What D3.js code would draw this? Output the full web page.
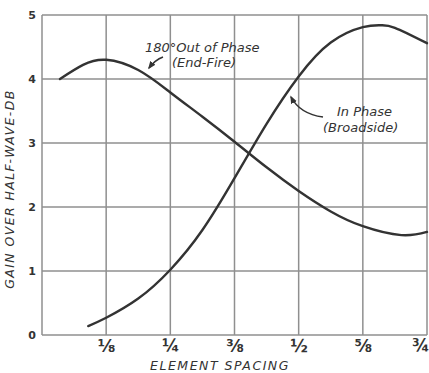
<!DOCTYPE html>
<html><head><meta charset="utf-8">
<script src="https://cdn.jsdelivr.net/npm/d3@7"></script>
<style>body{margin:0;background:#fff}svg{display:block}</style>
</head><body>
<svg id="c" width="429" height="373"></svg>
<script>
const spacing = [0.09,0.125,0.1875,0.25,0.3125,0.375,0.4375,0.5,0.5625,0.625,0.66,0.6875,0.75];
const broadside = [0.14,0.27,0.57,1.02,1.64,2.45,3.30,4.04,4.57,4.81,4.84,4.80,4.56];
const endFireSpacing = [0.035,0.08,0.125,0.1875,0.25,0.3125,0.375,0.4375,0.5,0.5625,0.625,0.70,0.75];
const endFire = [4.0,4.22,4.30,4.14,3.79,3.41,3.02,2.62,2.25,1.93,1.70,1.56,1.61];
const xTicks = [0.125,0.25,0.375,0.5,0.625,0.75];
const xTickLabels = ["⅛","¼","⅜","½","⅝","¾"];
const yTicks = [0,1,2,3,4,5];

const svg = d3.select("#c");
const m = {l:42, r:2, t:15, b:38};
const W = 429, H = 373;
const x = d3.scaleLinear().domain([0,0.75]).range([m.l, W-m.r]);
const y = d3.scaleLinear().domain([0,5]).range([H-m.b, m.t]);
const ink = "#333";
const grid = "#8f8f8f";

// grid
const g = svg.append("g");
g.selectAll(".vx").data(xTicks).join("line")
  .attr("x1",d=>x(d)).attr("x2",d=>x(d)).attr("y1",y(0)).attr("y2",y(5))
  .attr("stroke",grid).attr("stroke-width",1.5);
g.selectAll(".hy").data(yTicks).join("line")
  .attr("x1",x(0)).attr("x2",x(0.75)).attr("y1",d=>y(d)).attr("y2",d=>y(d))
  .attr("stroke",grid).attr("stroke-width",1.5);
g.append("line").attr("x1",x(0)).attr("x2",x(0)).attr("y1",y(0)).attr("y2",y(5))
  .attr("stroke",grid).attr("stroke-width",1.5);

// axes labels
const yAxis = d3.axisLeft(y).tickValues(yTicks).tickFormat(d3.format("d")).tickSize(0).tickPadding(6);
svg.append("g").attr("transform",`translate(${x(0)},0)`).call(yAxis)
  .call(s=>s.select(".domain").remove())
  .selectAll("text").attr("font-family","DejaVu Sans").attr("font-weight","bold")
  .attr("font-size",11).attr("fill",ink);
const xAxis = d3.axisBottom(x).tickValues(xTicks).tickFormat((d,i)=>xTickLabels[i]).tickSize(0).tickPadding(5);
svg.append("g").attr("transform",`translate(0,${y(0)})`).call(xAxis)
  .call(s=>s.select(".domain").remove())
  .selectAll("text").attr("font-family","DejaVu Sans").attr("font-weight","bold")
  .attr("font-size",17).attr("fill",ink)
  .filter(d=>d===0.75).attr("text-anchor","end").attr("dx",2);

svg.append("text").attr("x",220).attr("y",370).attr("text-anchor","middle")
  .attr("font-family","DejaVu Sans").attr("font-style","italic").attr("font-size",12.5)
  .attr("letter-spacing",1.5).attr("fill",ink).text("ELEMENT SPACING");
svg.append("text").attr("transform","translate(14,189) rotate(-90)").attr("text-anchor","middle")
  .attr("font-family","DejaVu Sans").attr("font-style","italic").attr("font-size",12.5)
  .attr("letter-spacing",1.4).attr("fill",ink).text("GAIN OVER HALF-WAVE-DB");

// curves
const line = d3.line().x(d=>x(d[0])).y(d=>y(d[1])).curve(d3.curveNatural);
svg.append("path").datum(spacing.map((s,i)=>[s,broadside[i]]))
  .attr("d",line).attr("fill","none").attr("stroke",ink).attr("stroke-width",2.4).attr("stroke-linecap","round");
svg.append("path").datum(endFireSpacing.map((s,i)=>[s,endFire[i]]))
  .attr("d",line).attr("fill","none").attr("stroke",ink).attr("stroke-width",2.4).attr("stroke-linecap","round");

// annotations
const ann = {"font-family":"DejaVu Sans","font-style":"italic","font-size":13,"fill":ink};
function txt(t,xx,yy){const e=svg.append("text").attr("x",xx).attr("y",yy).text(t);for(const k in ann)e.attr(k,ann[k]);return e;}
txt("180°Out of Phase",145,52);
txt("(End-Fire)",172,67);
txt("In Phase",337,116);
txt("(Broadside)",323,132);

svg.append("defs").append("marker").attr("id","ah").attr("viewBox","0 0 10 10")
  .attr("refX",8).attr("refY",5).attr("markerWidth",5).attr("markerHeight",5).attr("orient","auto")
  .append("path").attr("d","M0,1 L10,5 L0,9 Z").attr("fill",ink);
svg.append("path").attr("d","M163,57 Q155,60 149,68").attr("fill","none").attr("stroke",ink)
  .attr("stroke-width",1.6).attr("marker-end","url(#ah)");
svg.append("path").attr("d","M323,117 Q300,114 291,97").attr("fill","none").attr("stroke",ink)
  .attr("stroke-width",1.6).attr("marker-end","url(#ah)");
</script>
</body></html>
